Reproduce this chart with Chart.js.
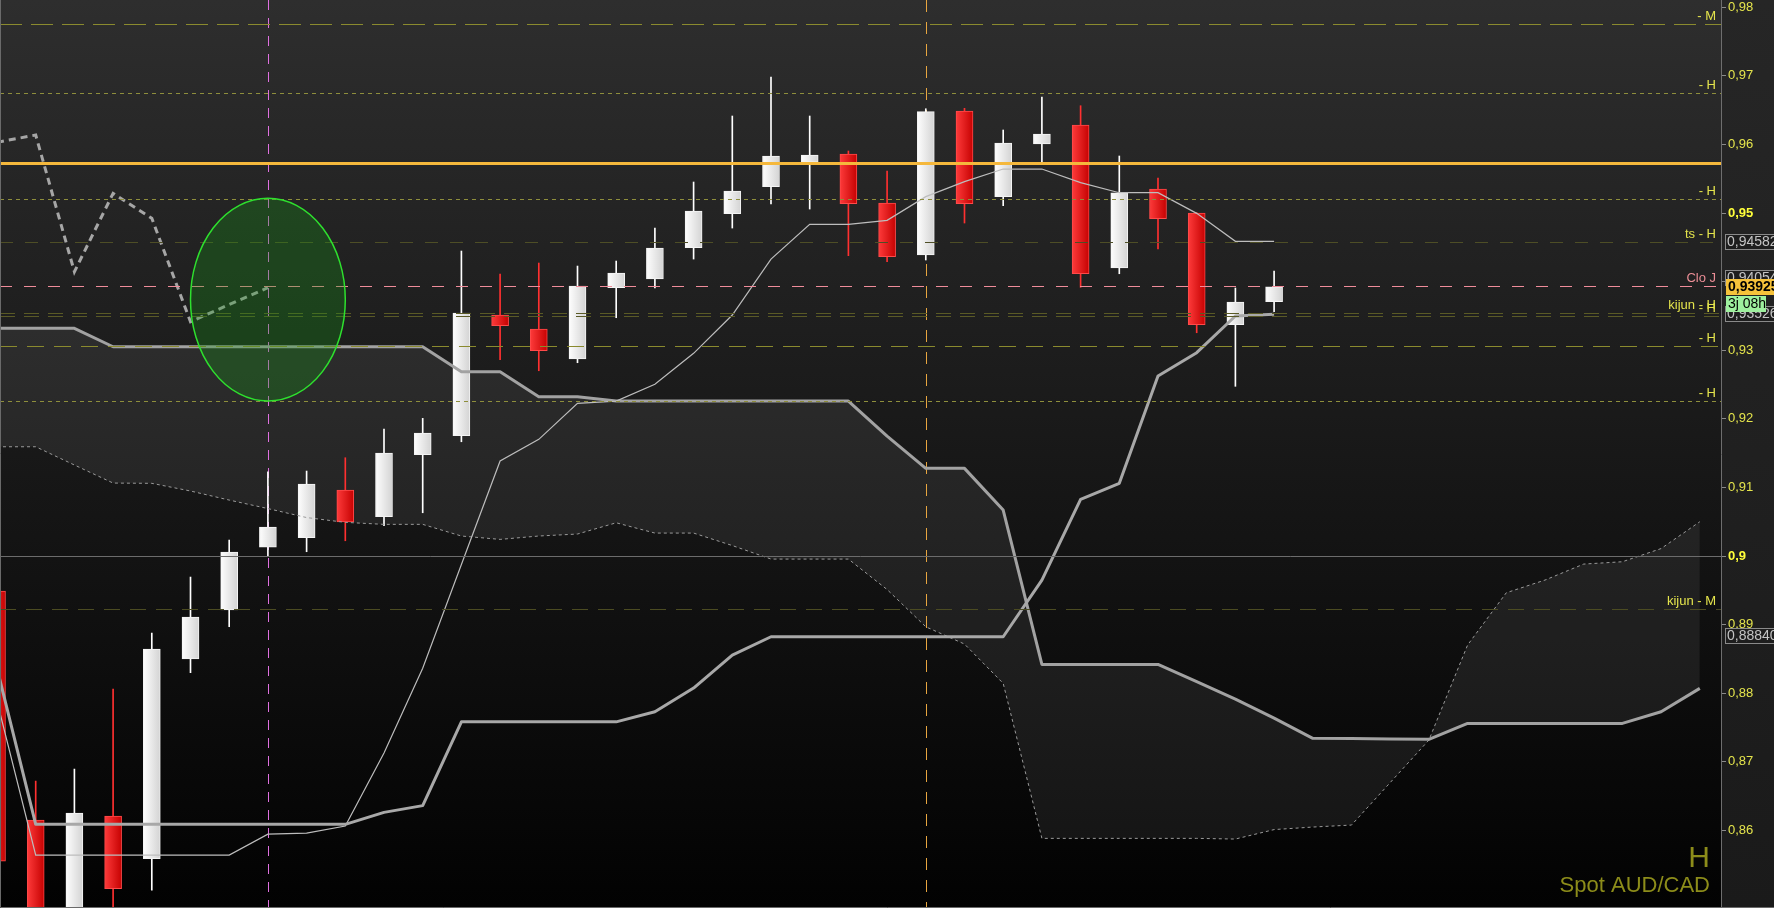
<!DOCTYPE html>
<html>
<head>
<meta charset="utf-8">
<title>Spot AUD/CAD - H</title>
<script src="https://cdn.jsdelivr.net/npm/chart.js@4.4.1/dist/chart.umd.min.js"></script>
<style>
  html, body { margin: 0; padding: 0; background: #1c1c1c; overflow: hidden; }
</style>
</head>
<body>
<canvas id="ichimoku" width="1774" height="908"></canvas>
<script>
// candles (index = bar number on the chart)
const candleIndex = [0,1,2,3,4,5,6,7,8,9,10,11,12,13,14,15,16,17,18,19,20,21,22,23,24,25,26,27,28,29,30,31,32,33];
const opens  = [0.8949,0.86152,0.846,0.8621,0.85588,0.88499,0.89213,0.90131,0.90267,0.90962,0.90573,0.91477,0.91754,0.93513,0.93309,0.92872,0.93911,0.94038,0.94494,0.9499,0.95384,0.95743,0.9586,0.95146,0.94388,0.96487,0.95238,0.96006,0.96283,0.94198,0.9535,0.95,0.93372,0.93707];
const highs  = [0.8955,0.8672,0.86895,0.88061,0.88878,0.89694,0.90233,0.91229,0.91239,0.91433,0.91851,0.92007,0.94446,0.94111,0.94271,0.94227,0.943,0.94781,0.95452,0.96414,0.96983,0.96414,0.95904,0.95612,0.9652,0.96526,0.9621,0.96691,0.96564,0.95831,0.9551,0.95005,0.93907,0.94154];
const lows   = [0.854,0.844,0.844,0.847,0.85131,0.883,0.8897,0.8999,0.90063,0.90223,0.90442,0.90631,0.91666,0.92862,0.92701,0.92818,0.93474,0.93907,0.94329,0.94781,0.95131,0.95058,0.94378,0.9429,0.94315,0.94854,0.95107,0.95748,0.93917,0.94115,0.94475,0.93255,0.92474,0.93562];
const closes = [0.85554,0.8455,0.86254,0.8515,0.88644,0.89111,0.90058,0.90423,0.9105,0.90496,0.91501,0.91793,0.93542,0.93357,0.92993,0.93936,0.94125,0.9449,0.95029,0.95321,0.95831,0.95845,0.95136,0.94363,0.96477,0.95136,0.9602,0.96152,0.94115,0.95296,0.94917,0.93372,0.93703,0.93925];

// ichimoku lines
const tenkan = [0.87886,0.85641,0.85641,0.85641,0.85641,0.85641,0.85641,0.85947,0.85962,0.86064,0.87128,0.88364,0.89876,0.91385,0.91701,0.92226,0.92259,0.92503,0.92955,0.93513,0.94329,0.94835,0.94835,0.94894,0.95239,0.95458,0.95641,0.95641,0.95443,0.95296,0.95296,0.94995,0.94587,0.94587];
const kijun  = [0.88367,0.86089,0.86089,0.86089,0.86089,0.86089,0.86089,0.86089,0.86089,0.86089,0.86264,0.86362,0.87583,0.87583,0.87583,0.87583,0.87583,0.8773,0.88076,0.88557,0.88824,0.88824,0.88824,0.88824,0.88824,0.88824,0.88824,0.8965,0.90827,0.9106,0.92624,0.92964,0.93499,0.93523];
const chikouIndex = [0,1,2,3,4,5,6,7];
const chikou = [0.96031,0.96137,0.94144,0.95287,0.94923,0.93416,0.93666,0.93911];
const cloudIndex = [0,1,2,3,4,5,6,7,8,9,10,11,12,13,14,15,16,17,18,19,20,21,22,23,24,25,26,27,28,29,30,31,32,33,34,35,36,37,38,39,40,41,42,43,44];
const spanA = [0.91593,0.91593,0.91327,0.91064,0.9106,0.90948,0.90816,0.90692,0.90561,0.90491,0.90462,0.90462,0.90292,0.90243,0.90292,0.90321,0.90485,0.90335,0.90335,0.90153,0.89956,0.89956,0.89956,0.89512,0.88969,0.88717,0.88144,0.85885,0.85885,0.85885,0.85885,0.85885,0.85875,0.86013,0.8605,0.86079,0.86698,0.87318,0.88703,0.89465,0.8965,0.89883,0.89917,0.90109,0.905];
const spanB = [0.93319,0.93319,0.93319,0.93051,0.93051,0.93051,0.93051,0.93051,0.93051,0.93051,0.93051,0.93051,0.92687,0.92687,0.92322,0.92322,0.92259,0.92259,0.92259,0.92259,0.92259,0.92259,0.92259,0.91749,0.91278,0.91278,0.90671,0.88421,0.88421,0.88421,0.88421,0.88168,0.87915,0.87638,0.87343,0.8734,0.87332,0.87328,0.87561,0.87561,0.87561,0.87561,0.87561,0.8773,0.88071];

// horizontal levels and their tags
const levelValues = [0.97751,0.96745,0.95724,0.952,0.94573,0.93936,0.93538,0.93499,0.93061,0.92262,0.9,0.89223];
const levelLabels = ['- M','- H','','- H','ts - H','Clo J','kijun - H','- H','- H','- H','','kijun - M'];
const levelStyles = [
  {color:'#8a8a2e', dash:[22,9], width:1},
  {color:'#8e8e3c', dash:[4,4], width:1},
  {color:'#f5b83c', dash:[], width:3},
  {color:'#8e8e3c', dash:[4,4], width:1},
  {color:'#4e4e26', dash:[13,12], width:1},
  {color:'#f08c9a', dash:[12,12], width:1},
  {color:'#5a5a26', dash:[15,9], width:1},
  {color:'#5a5a26', dash:[15,9], width:1},
  {color:'#8a8a2e', dash:[17,10], width:1},
  {color:'#8e8e3c', dash:[4,4], width:1},
  {color:'#6c6c6c', dash:[], width:1},
  {color:'#4c4c22', dash:[16,10], width:1}
];

// y axis ticks and value tags
const yTicks = [0.86,0.87,0.88,0.89,0.9,0.91,0.92,0.93,0.94,0.95,0.96,0.97,0.98];
const boldTicks = [0.9,0.95];
const tagValues = [0.94582,0.94054,0.93526,0.8884];
const tagLabels = ['0,94582','0,94054','0,93526','0,88840'];
const lastPrice = 0.93925;
const lastPriceLabel = '0,93925';
const countdownLabel = '3j 08h';

// markers
const markerIndex = [7, 24];
const zoneIndexRange = [5, 9];
const zoneValueRange = [0.92259, 0.95214];
const titleLines = ['H', 'Spot AUD/CAD'];

const FONT = '"Liberation Sans", Arial, sans-serif';

const pts = (xs, ys) => xs.map((x, k) => ({x: x, y: ys[k]}));
const isUp = k => closes[k] >= opens[k];
const isBold = c => !!(c && c.tick) && boldTicks.includes(Math.round(c.tick.value * 100) / 100);

function bodyFill(c) {
  if (c.type !== 'data') return '#ffffff';
  const up = isUp(c.dataIndex);
  const flat = up ? '#f2f2f2' : '#e81c1c';
  const xs = c.chart.scales && c.chart.scales.x;
  if (!xs) return flat;
  const cx = xs.getPixelForValue(candleIndex[c.dataIndex]);
  if (!isFinite(cx)) return flat;
  const g = c.chart.ctx.createLinearGradient(cx - 9, 0, cx + 9, 0);
  if (up) { g.addColorStop(0, '#ffffff'); g.addColorStop(1, '#d2d2d2'); }
  else { g.addColorStop(0, '#ff3c3c'); g.addColorStop(1, '#c40000'); }
  return g;
}

const overlay = {
  id: 'overlay',
  beforeDraw(chart) {
    const {ctx, chartArea: a, width, height} = chart;
    ctx.save();
    let g = ctx.createLinearGradient(0, 0, 0, height);
    g.addColorStop(0, '#262626'); g.addColorStop(1, '#1a1a1a');
    ctx.fillStyle = g;
    ctx.fillRect(0, 0, width, height);
    g = ctx.createLinearGradient(0, a.top, 0, a.bottom);
    g.addColorStop(0, '#2e2e2e'); g.addColorStop(1, '#020202');
    ctx.fillStyle = g;
    ctx.fillRect(a.left, a.top, a.right - a.left, a.bottom - a.top);
    ctx.restore();
  },
  beforeDatasetsDraw(chart) {
    const {ctx, chartArea: a, scales: {x}} = chart;
    const cols = ['#e070e0', '#e8a640'];
    const dashes = [[10, 8], [12, 10]];
    ctx.save();
    markerIndex.forEach((m, k) => {
      const px = Math.round(x.getPixelForValue(m)) + 0.5;
      ctx.strokeStyle = cols[k];
      ctx.lineWidth = 1;
      ctx.setLineDash(dashes[k]);
      ctx.beginPath();
      ctx.moveTo(px, a.top);
      ctx.lineTo(px, a.bottom);
      ctx.stroke();
    });
    ctx.restore();
  },
  afterDatasetsDraw(chart) {
    const {ctx, chartArea: a, scales: {x, y}} = chart;
    ctx.save();
    ctx.beginPath();
    ctx.rect(a.left, a.top, a.right - a.left, a.bottom - a.top);
    ctx.clip();

    // levels
    levelValues.forEach((v, k) => {
      const st = levelStyles[k];
      let py = Math.round(y.getPixelForValue(v));
      if (st.width % 2 === 1) py += 0.5;
      ctx.strokeStyle = st.color;
      ctx.lineWidth = st.width;
      ctx.setLineDash(st.dash);
      ctx.beginPath();
      ctx.moveTo(a.left, py);
      ctx.lineTo(a.right, py);
      ctx.stroke();
    });
    ctx.setLineDash([]);
    ctx.font = '13px ' + FONT;
    ctx.textAlign = 'right';
    ctx.textBaseline = 'alphabetic';
    levelValues.forEach((v, k) => {
      if (!levelLabels[k]) return;
      ctx.fillStyle = levelLabels[k] === 'Clo J' ? '#ec8e96' : '#e4e44c';
      ctx.fillText(levelLabels[k], a.right - 5, y.getPixelForValue(v) - 4);
    });

    // highlighted zone
    const x0 = x.getPixelForValue(zoneIndexRange[0]);
    const x1 = x.getPixelForValue(zoneIndexRange[1]);
    const y0 = y.getPixelForValue(zoneValueRange[1]);
    const y1 = y.getPixelForValue(zoneValueRange[0]);
    ctx.beginPath();
    ctx.ellipse((x0 + x1) / 2, (y0 + y1) / 2, (x1 - x0) / 2, (y1 - y0) / 2, 0, 0, Math.PI * 2);
    ctx.fillStyle = 'rgba(24,150,24,0.30)';
    ctx.fill();
    ctx.strokeStyle = '#2ee02e';
    ctx.lineWidth = 1.5;
    ctx.stroke();

    // title
    ctx.fillStyle = '#8c8c1a';
    ctx.textAlign = 'right';
    ctx.font = '30px ' + FONT;
    ctx.fillText(titleLines[0], a.right - 11, 867);
    ctx.font = '22px ' + FONT;
    ctx.fillText(titleLines[1], a.right - 11, 892);
    ctx.restore();
  },
  afterDraw(chart) {
    const {ctx, chartArea: a, scales: {y}, width, height} = chart;
    ctx.save();
    ctx.textBaseline = 'middle';
    ctx.textAlign = 'left';
    const tag = (py, text, bg, border, fg, bold, left, right) => {
      const top = Math.round(py - 8);
      ctx.fillStyle = bg;
      ctx.fillRect(left, top, right - left, 16);
      if (border) {
        ctx.strokeStyle = border;
        ctx.lineWidth = 1;
        ctx.strokeRect(left + 0.5, top + 0.5, right - left, 15);
      }
      ctx.font = (bold ? 'bold ' : '') + '14px ' + FONT;
      ctx.fillStyle = fg;
      ctx.fillText(text, left + 2, top + 8.5);
    };
    tagValues.forEach((v, k) => {
      tag(y.getPixelForValue(v), tagLabels[k], '#1e1e1e', '#8a8a8a', '#c4c4c4', false, a.right + 4, width + 2);
    });
    const pp = y.getPixelForValue(lastPrice);
    tag(pp, lastPriceLabel, '#f6c23a', null, '#000000', true, a.right + 5, width);
    tag(pp + 17, countdownLabel, '#9ef09e', null, '#000000', false, a.right + 5, a.right + 45);

    // frame
    ctx.strokeStyle = '#6a6a6a';
    ctx.lineWidth = 1;
    ctx.beginPath();
    ctx.moveTo(0.5, 0);
    ctx.lineTo(0.5, height - 0.5);
    ctx.lineTo(width, height - 0.5);
    ctx.stroke();
    ctx.restore();
  }
};

const ctx = document.getElementById('ichimoku').getContext('2d');
const chart = new Chart(ctx, {
  type: 'bar',
  data: {
    datasets: [
      {
        type: 'line', label: 'Senkou B', data: pts(cloudIndex, spanB),
        borderColor: '#a2a2a2', borderWidth: 3, pointRadius: 0, tension: 0,
        borderJoinStyle: 'round', fill: false, order: 2
      },
      {
        type: 'line', label: 'Senkou A', data: pts(cloudIndex, spanA),
        borderColor: '#9a9a9a', borderWidth: 1, borderDash: [3, 3], pointRadius: 0, tension: 0,
        fill: 0, backgroundColor: 'rgba(255,255,255,0.065)', order: 2
      },
      {
        type: 'line', label: 'Kijun', data: pts(candleIndex, kijun),
        borderColor: '#a8a8a8', borderWidth: 3, pointRadius: 0, tension: 0,
        borderJoinStyle: 'round', order: 1
      },
      {
        type: 'line', label: 'Tenkan', data: pts(candleIndex, tenkan),
        borderColor: '#bdbdbd', borderWidth: 1.2, pointRadius: 0, tension: 0, order: 1
      },
      {
        type: 'line', label: 'Chikou', data: pts(chikouIndex, chikou),
        borderColor: '#a6a6a6', borderWidth: 3, borderDash: [7, 5], pointRadius: 0, tension: 0, order: 1
      },
      {
        label: 'Wicks',
        data: candleIndex.map((x, k) => ({x: x, y: [lows[k], highs[k]]})),
        backgroundColor: c => (c.type === 'data' && !isUp(c.dataIndex)) ? '#ff3030' : '#ffffff',
        barThickness: 1, grouped: false, borderWidth: 0, order: 6
      },
      {
        label: 'Bodies',
        data: candleIndex.map((x, k) => ({x: x, y: [opens[k], closes[k]]})),
        backgroundColor: bodyFill,
        borderColor: c => (c.type === 'data' && !isUp(c.dataIndex)) ? '#ff4a4a' : '#f4f4f4',
        borderWidth: 1, borderSkipped: false,
        barThickness: 17, grouped: false, order: 5
      }
    ]
  },
  options: {
    responsive: false,
    animation: false,
    devicePixelRatio: 1,
    layout: { padding: 0 },
    plugins: {
      legend: { display: false },
      tooltip: { enabled: false },
      filler: { drawTime: 'beforeDatasetsDraw' }
    },
    scales: {
      x: {
        type: 'linear', min: 0.0775, max: 44.548, offset: false, display: false
      },
      y: {
        position: 'right',
        min: 0.8487, max: 0.98105,
        afterBuildTicks: s => { s.ticks = yTicks.map(v => ({value: v})); },
        afterFit: s => { s.width = 53; s.paddingTop = 0; s.paddingBottom = 0; },
        grid: { drawOnChartArea: false, drawTicks: true, tickLength: 5, color: '#8a8a8a' },
        border: { display: true, color: '#6e6e6e' },
        ticks: {
          padding: 2,
          autoSkip: false,
          color: c => isBold(c) ? '#ffff3a' : '#e4e44c',
          font: c => ({ family: FONT, size: 13, weight: isBold(c) ? 'bold' : 'normal' }),
          callback: v => String(Math.round(v * 100) / 100).replace('.', ',')
        }
      }
    }
  },
  plugins: [overlay]
});
</script>
</body>
</html>
